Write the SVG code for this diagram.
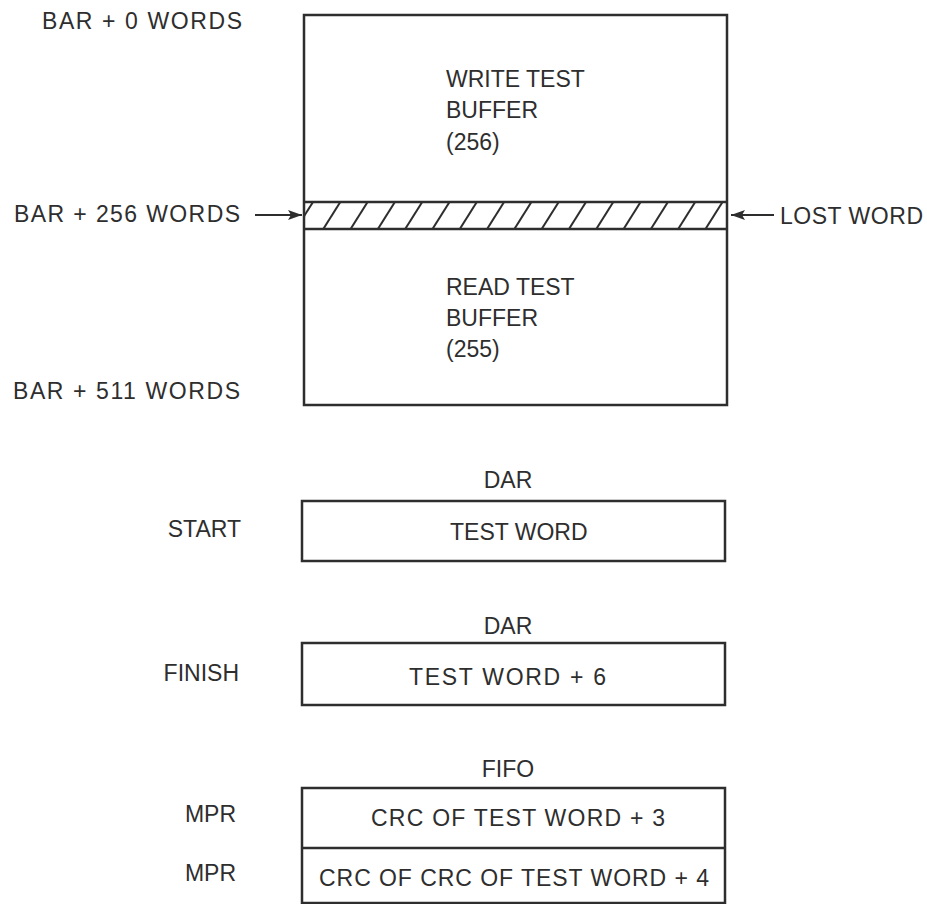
<svg xmlns="http://www.w3.org/2000/svg" width="927" height="904" viewBox="0 0 927 904">
<style>
text{font-family:"Liberation Sans",Arial,sans-serif;font-size:23px;fill:#2e2e2e}
.box{fill:none;stroke:#2e2e2e;stroke-width:2.5}
.hatch{stroke:#2e2e2e;stroke-width:2}
.arr{stroke:#2e2e2e;stroke-width:2;fill:none}
.m{text-anchor:middle}
.e{text-anchor:end}
</style>
<defs>
<marker id="ahl" viewBox="0 0 14 10" refX="14" refY="5" markerWidth="15" markerHeight="10" orient="auto" markerUnits="userSpaceOnUse">
<path d="M0,0 L14,5 L0,10 L3,5 Z" fill="#2e2e2e"/>
</marker>
<clipPath id="bandclip"><rect x="305" y="203" width="421" height="25"/></clipPath>
</defs>
<rect width="927" height="904" fill="#fff"/>
<g id="buffer">
<rect class="box" x="304" y="15" width="423" height="390"/>
<line class="box" x1="304" y1="202" x2="727" y2="202"/>
<line class="box" x1="304" y1="229" x2="727" y2="229"/>
<g clip-path="url(#bandclip)" class="hatch">
<line x1="296" y1="229" x2="313" y2="202"/>
<line x1="323.3" y1="229" x2="340.3" y2="202"/>
<line x1="350.6" y1="229" x2="367.6" y2="202"/>
<line x1="377.9" y1="229" x2="394.9" y2="202"/>
<line x1="405.2" y1="229" x2="422.2" y2="202"/>
<line x1="432.5" y1="229" x2="449.5" y2="202"/>
<line x1="459.8" y1="229" x2="476.8" y2="202"/>
<line x1="487.1" y1="229" x2="504.1" y2="202"/>
<line x1="514.4" y1="229" x2="531.4" y2="202"/>
<line x1="541.7" y1="229" x2="558.7" y2="202"/>
<line x1="569" y1="229" x2="586" y2="202"/>
<line x1="596.3" y1="229" x2="613.3" y2="202"/>
<line x1="623.6" y1="229" x2="640.6" y2="202"/>
<line x1="650.9" y1="229" x2="667.9" y2="202"/>
<line x1="678.2" y1="229" x2="695.2" y2="202"/>
<line x1="705.5" y1="229" x2="722.5" y2="202"/>
</g>
<text x="446" y="87">WRITE TEST</text>
<text x="446" y="118">BUFFER</text>
<text x="446" y="150">(256)</text>
<text x="446" y="295">READ TEST</text>
<text x="446" y="326">BUFFER</text>
<text x="446" y="357">(255)</text>
</g>
<g id="labels">
<text x="42" y="29" textLength="200" lengthAdjust="spacing">BAR + 0 WORDS</text>
<text x="14" y="222" textLength="226" lengthAdjust="spacing">BAR + 256 WORDS</text>
<text x="780" y="224" textLength="143" lengthAdjust="spacing">LOST WORD</text>
<text x="13" y="399" textLength="227" lengthAdjust="spacing">BAR + 511 WORDS</text>
</g>
<g id="connectors">
<line class="arr" x1="255" y1="215" x2="302" y2="215" marker-end="url(#ahl)"/>
<line class="arr" x1="774" y1="215" x2="731" y2="215" marker-end="url(#ahl)"/>
</g>
<g id="start">
<text class="m" x="508" y="488">DAR</text>
<text class="e" x="241" y="537">START</text>
<rect class="box" x="302" y="501" width="423" height="60"/>
<text x="450" y="540">TEST WORD</text>
</g>
<g id="finish">
<text class="m" x="508" y="634">DAR</text>
<text class="e" x="239" y="681">FINISH</text>
<rect class="box" x="302" y="643" width="423" height="62"/>
<text x="409" y="685" textLength="197" lengthAdjust="spacing">TEST WORD + 6</text>
</g>
<g id="fifo">
<text class="m" x="508" y="777">FIFO</text>
<text class="e" x="236" y="822">MPR</text>
<text class="e" x="236" y="881">MPR</text>
<rect class="box" x="302" y="788" width="423" height="115"/>
<line class="box" x1="302" y1="848" x2="725" y2="848"/>
<text x="371" y="826" textLength="294" lengthAdjust="spacing">CRC OF TEST WORD + 3</text>
<text x="319" y="886" textLength="390" lengthAdjust="spacing">CRC OF CRC OF TEST WORD + 4</text>
</g>
</svg>
